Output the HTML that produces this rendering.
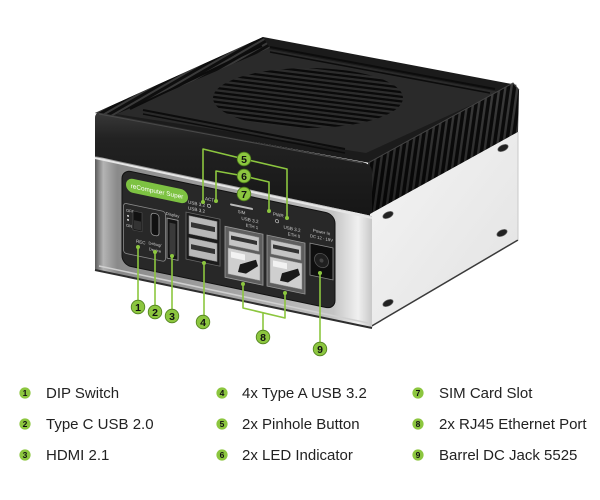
<!DOCTYPE html>
<html><head><meta charset="utf-8">
<style>
html,body{margin:0;padding:0;background:#fff;width:600px;height:500px;overflow:hidden;}
svg{display:block;}
text{font-family:"Liberation Sans",Arial,sans-serif;}
</style></head><body>
<svg width="600" height="500" viewBox="0 0 600 500" xmlns="http://www.w3.org/2000/svg">
<defs>
  <pattern id="fins" patternUnits="userSpaceOnUse" width="6" height="40" patternTransform="skewX(-8)">
    <rect width="6" height="40" fill="#0c0c0c"/>
    <rect x="0.5" width="2.4" height="40" fill="#3d3d3d"/>
  </pattern>
  <pattern id="finsEdge" patternUnits="userSpaceOnUse" width="5" height="40" patternTransform="rotate(60)">
    <rect width="5" height="40" fill="#0e0e0e"/>
    <rect width="2" height="40" fill="#3a3a3a"/>
  </pattern>
  <pattern id="slits" patternUnits="userSpaceOnUse" width="20" height="4.6" patternTransform="rotate(7)">
    <rect width="20" height="4.6" fill="#2c2c2c"/>
    <rect y="0" width="20" height="2.3" fill="#0a0a0a"/>
  </pattern>
  <linearGradient id="finShade" x1="0" y1="0" x2="0" y2="1">
    <stop offset="0" stop-color="#000" stop-opacity="0"/>
    <stop offset="1" stop-color="#000" stop-opacity="0.45"/>
  </linearGradient>
  <linearGradient id="silverFront" x1="95" y1="0" x2="372" y2="0" gradientUnits="userSpaceOnUse">
    <stop offset="0" stop-color="#5a5a5a"/>
    <stop offset="0.03" stop-color="#b4b4b4"/>
    <stop offset="0.08" stop-color="#8a8a8a"/>
    <stop offset="0.5" stop-color="#a4a4a4"/>
    <stop offset="0.86" stop-color="#c4c4c4"/>
    <stop offset="0.95" stop-color="#f0f0f0"/>
    <stop offset="1" stop-color="#c8c8c8"/>
  </linearGradient>
  <linearGradient id="silverRight" x1="0" y1="0" x2="1" y2="1">
    <stop offset="0" stop-color="#f4f4f4"/>
    <stop offset="1" stop-color="#e2e2e2"/>
  </linearGradient>
  <linearGradient id="blackFront" x1="0" y1="0" x2="0" y2="1">
    <stop offset="0" stop-color="#383838"/>
    <stop offset="0.25" stop-color="#222"/>
    <stop offset="1" stop-color="#161616"/>
  </linearGradient>
  <clipPath id="ventClip"><ellipse cx="308" cy="98" rx="95" ry="30"/></clipPath>
</defs>

<!-- ===== TOP SURFACE ===== -->
<polygon points="263,37 517,85 370,163 95,113" fill="#1b1b1b"/>
<polygon points="268,49 500,92 366,153 116,114" fill="#2a2a2a"/>
<polygon points="95,113 263,37 270,48 112,116" fill="url(#finsEdge)"/>
<line x1="130" y1="109" x2="262" y2="46" stroke="#0c0c0c" stroke-width="2"/>
<line x1="270" y1="47" x2="495" y2="89" stroke="#0c0c0c" stroke-width="2"/>
<line x1="270" y1="52" x2="490" y2="93" stroke="#0c0c0c" stroke-width="1.5"/>
<line x1="143" y1="110" x2="345" y2="149" stroke="#0c0c0c" stroke-width="2"/>
<line x1="143" y1="114" x2="345" y2="153" stroke="#0c0c0c" stroke-width="1.5"/>
<ellipse cx="308" cy="98" rx="95" ry="30" fill="#2c2c2c"/>
<rect x="200" y="60" width="220" height="80" fill="url(#slits)" clip-path="url(#ventClip)"/>

<!-- ===== RIGHT FINS ===== -->
<polygon points="368,163 513,83 519,90 518,132 370,214" fill="url(#fins)"/>
<polygon points="368,163 513,83 519,90 518,132 370,214" fill="url(#finShade)"/>
<polyline points="368,163 513,83 519,90" fill="none" stroke="#444" stroke-width="1"/>

<!-- ===== FRONT BLACK FACE ===== -->
<path d="M95,118 Q95,112 101,113 L362,162 Q372,164 372,172 L372,216 L95,157 Z" fill="url(#blackFront)"/>
<line x1="99" y1="114" x2="362" y2="163" stroke="#4a4a4a" stroke-width="1"/>

<!-- ===== SILVER BODY ===== -->
<polygon points="370,214 518,132 518,240 370,327" fill="url(#silverRight)"/>
<line x1="370" y1="327" x2="518" y2="240" stroke="#3a3a3a" stroke-width="1.5"/>
<line x1="518" y1="132" x2="518" y2="240" stroke="#c8c8c8" stroke-width="1"/>
<g fill="#222" stroke="#666" stroke-width="0.6">
  <ellipse cx="388" cy="215" rx="5.5" ry="3" transform="rotate(-25 388 215)"/>
  <ellipse cx="503" cy="148" rx="5.5" ry="3" transform="rotate(-25 503 148)"/>
  <ellipse cx="502" cy="233" rx="5.5" ry="3" transform="rotate(-25 502 233)"/>
  <ellipse cx="388" cy="303" rx="5.5" ry="3" transform="rotate(-25 388 303)"/>
</g>

<polygon points="95,156 372,216 372,327 95,270" fill="url(#silverFront)"/>
<line x1="95" y1="158" x2="372" y2="218" stroke="#e6e6e6" stroke-width="2"/>
<line x1="95" y1="270" x2="372" y2="328" stroke="#2e2e2e" stroke-width="2"/>
<line x1="99" y1="266" x2="368" y2="323" stroke="#d0d0d0" stroke-width="1.5"/>

<!-- ===== FRONT PANEL (skewed) ===== -->
<g transform="matrix(1 0.21 0 1 0 0)">
  <rect x="122" y="144" width="213" height="95" rx="9" fill="#282828" stroke="#111" stroke-width="1"/>
  <rect x="126" y="151" width="62" height="14" rx="7" fill="#7dc242"/>
  <text x="157" y="160.5" font-size="6.4" fill="#fff" text-anchor="middle">reComputer Super</text>

  <rect x="123.5" y="177" width="42" height="50" rx="3" fill="none" stroke="#8a8a8a" stroke-width="0.8"/>
  <text x="126" y="185" font-size="4" fill="#ccc">OFF</text>
  <circle cx="128" cy="189" r="1" fill="#ddd"/>
  <circle cx="128" cy="193" r="1" fill="#ddd"/>
  <text x="126" y="200" font-size="4" fill="#ccc">ON</text>
  <rect x="133" y="183" width="9" height="19" fill="#111" stroke="#555" stroke-width="0.6"/>
  <rect x="134" y="192" width="7" height="9" fill="#333"/>
  <text x="136" y="214" font-size="4.5" fill="#ccc">REC</text>
  <rect x="151" y="181" width="8" height="22" rx="3" fill="#111" stroke="#999" stroke-width="0.8"/>
  <text x="155" y="213" font-size="4" fill="#ccc" text-anchor="middle">Debug/</text>
  <text x="155" y="219" font-size="4" fill="#ccc" text-anchor="middle">Device</text>

  <text x="172.5" y="180" font-size="4.2" fill="#ccc" text-anchor="middle">Display</text>
  <rect x="167" y="183" width="11" height="40" fill="#141414" stroke="#9a9a9a" stroke-width="0.9"/>
  <rect x="169.5" y="187" width="6" height="32" fill="#3a3a3a"/>

  <text x="188" y="164" font-size="4.6" fill="#ccc">USB 3.2</text>
  <text x="188" y="170" font-size="4.6" fill="#ccc">USB 3.2</text>
  <rect x="186" y="173" width="34" height="47" fill="#1c1c1c" stroke="#6a6a6a" stroke-width="0.8"/>
  <rect x="189" y="176" width="28" height="18" fill="#b8b8b8" stroke="#888" stroke-width="0.6"/>
  <rect x="191" y="182" width="24" height="5" fill="#333"/>
  <rect x="189" y="198" width="28" height="18" fill="#b8b8b8" stroke="#888" stroke-width="0.6"/>
  <rect x="191" y="204" width="24" height="5" fill="#333"/>

  <text x="205" y="157" font-size="4.6" fill="#ccc">ACT</text>
  <circle cx="209" cy="162" r="1.6" fill="none" stroke="#ccc" stroke-width="0.6"/>
  <rect x="230" y="155" width="23" height="2" rx="1" fill="#bbb"/>
  <text x="241.5" y="163" font-size="4.4" fill="#ccc" text-anchor="middle">SIM</text>
  <text x="273" y="158" font-size="4.6" fill="#ccc">PWR</text>
  <circle cx="277" cy="163" r="1.6" fill="none" stroke="#ccc" stroke-width="0.6"/>

  <text x="250" y="169" font-size="4.6" fill="#ccc" text-anchor="middle">USB 3.2</text>
  <text x="252" y="175" font-size="4.4" fill="#ccc" text-anchor="middle">ETH 1</text>
  <rect x="225" y="179" width="38" height="51" fill="#5e5e5e" stroke="#999" stroke-width="0.8"/>
  <rect x="229" y="183" width="30" height="14" fill="#c4c4c4" stroke="#888" stroke-width="0.5"/>
  <rect x="231" y="187" width="26" height="4" fill="#333"/>
  <rect x="228" y="200" width="32" height="26" fill="#cfcfcf" stroke="#888" stroke-width="0.5"/>
  <polygon points="240,214 256,206 258,212 246,222 238,222" fill="#1a1a1a"/>
  <rect x="231" y="203" width="14" height="6" fill="#f2f2f2"/>

  <text x="292" y="169" font-size="4.6" fill="#ccc" text-anchor="middle">USB 3.2</text>
  <text x="294" y="175" font-size="4.4" fill="#ccc" text-anchor="middle">ETH 0</text>
  <rect x="267" y="179" width="38" height="51" fill="#5e5e5e" stroke="#999" stroke-width="0.8"/>
  <rect x="271" y="183" width="30" height="14" fill="#c4c4c4" stroke="#888" stroke-width="0.5"/>
  <rect x="273" y="187" width="26" height="4" fill="#333"/>
  <rect x="270" y="200" width="32" height="26" fill="#cfcfcf" stroke="#888" stroke-width="0.5"/>
  <polygon points="282,214 298,206 300,212 288,222 280,222" fill="#1a1a1a"/>
  <rect x="273" y="203" width="14" height="6" fill="#f2f2f2"/>

  <text x="321.5" y="166" font-size="4.4" fill="#ccc" text-anchor="middle">Power In</text>
  <text x="321.5" y="172" font-size="4.2" fill="#ccc" text-anchor="middle">DC 12 - 19V</text>
  <rect x="310" y="178" width="23" height="32" fill="#0f0f0f" stroke="#8a8a8a" stroke-width="0.8"/>
  <circle cx="321.5" cy="193" r="7" fill="#1f1f1f" stroke="#555" stroke-width="0.8"/>
  <circle cx="321.5" cy="193" r="2" fill="#444"/>
</g>

<!-- ===== CALLOUT LINES ===== -->
<g fill="none" stroke="#8cc63f" stroke-width="1.6" stroke-linejoin="round">
  <path d="M203,202 V149 L244,159 L287,169 V218"/>
  <path d="M216,201 V171 L244,176 L269,182 V211"/>
  <path d="M138,247 V301"/>
  <path d="M155,252 V306"/>
  <path d="M172,256 V310"/>
  <path d="M204,263 V316"/>
  <path d="M243,284 V308 L285,318 V293 M263,313 V331"/>
  <path d="M320,273 V343"/>
</g>
<g fill="#8cc63f">
  <circle cx="203" cy="202" r="2"/><circle cx="287" cy="218" r="2"/>
  <circle cx="216" cy="201" r="2"/><circle cx="269" cy="211" r="2"/>
  <circle cx="138" cy="247" r="2"/><circle cx="155" cy="252" r="2"/>
  <circle cx="172" cy="256" r="2"/><circle cx="204" cy="263" r="2"/>
  <circle cx="243" cy="284" r="2"/><circle cx="285" cy="293" r="2"/>
  <circle cx="320" cy="273" r="2"/>
</g>
<g fill="#8cc63f" stroke="#4f7f1c" stroke-width="0.8">
  <circle cx="244" cy="159" r="6.8"/>
  <circle cx="244" cy="176" r="6.8"/>
  <circle cx="244" cy="194" r="6.8"/>
  <circle cx="138" cy="307" r="6.8"/>
  <circle cx="155" cy="312" r="6.8"/>
  <circle cx="172" cy="316" r="6.8"/>
  <circle cx="203" cy="322" r="6.8"/>
  <circle cx="263" cy="337" r="6.8"/>
  <circle cx="320" cy="349" r="6.8"/>
</g>
<g font-size="10.5" font-weight="bold" fill="#111" text-anchor="middle">
  <text x="244" y="163">5</text>
  <text x="244" y="180">6</text>
  <text x="244" y="198">7</text>
  <text x="138" y="311">1</text>
  <text x="155" y="316">2</text>
  <text x="172" y="320">3</text>
  <text x="203" y="326">4</text>
  <text x="263" y="341">8</text>
  <text x="320" y="353">9</text>
</g>

<!-- ===== LEGEND ===== -->
<g fill="#8cc63f">
  <circle cx="25" cy="393" r="5.6"/><circle cx="25" cy="424" r="5.6"/><circle cx="25" cy="455" r="5.6"/>
  <circle cx="222" cy="393" r="5.6"/><circle cx="222" cy="424" r="5.6"/><circle cx="222" cy="455" r="5.6"/>
  <circle cx="418" cy="393" r="5.6"/><circle cx="418" cy="424" r="5.6"/><circle cx="418" cy="455" r="5.6"/>
</g>
<g font-size="8.5" font-weight="bold" fill="#111" text-anchor="middle">
  <text x="25" y="396">1</text><text x="25" y="427">2</text><text x="25" y="458">3</text>
  <text x="222" y="396">4</text><text x="222" y="427">5</text><text x="222" y="458">6</text>
  <text x="418" y="396">7</text><text x="418" y="427">8</text><text x="418" y="458">9</text>
</g>
<g font-size="15" fill="#222">
  <text x="46" y="398">DIP Switch</text>
  <text x="46" y="429">Type C USB 2.0</text>
  <text x="46" y="460">HDMI 2.1</text>
  <text x="242" y="398">4x Type A USB 3.2</text>
  <text x="242" y="429">2x Pinhole Button</text>
  <text x="242" y="460">2x LED Indicator</text>
  <text x="439" y="398">SIM Card Slot</text>
  <text x="439" y="429">2x RJ45 Ethernet Port</text>
  <text x="439" y="460">Barrel DC Jack 5525</text>
</g>
</svg>
</body></html>
